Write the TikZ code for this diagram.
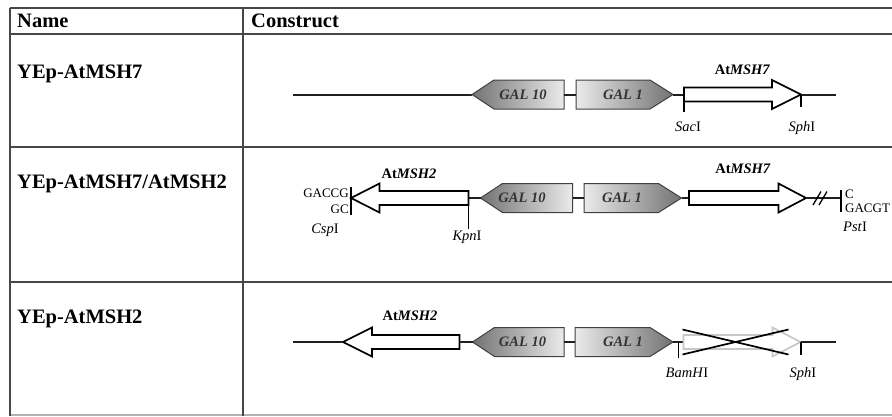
\documentclass[tikz,border=0pt]{standalone}
\usepackage{fontspec}
\setmainfont{Liberation Serif}
\newcommand\GalTen[4]{% name, tip x, right x, centre y
  \shade[left color=black!55,right color=black!8] (#2,#4) -- ({#2+22},{#4-14.5}) -- (#3,{#4-14.5}) -- (#3,{#4+14.5}) -- ({#2+22},{#4+14.5}) -- cycle;
  \draw[galbox] (#2,#4) -- ({#2+22},{#4-14.5}) -- (#3,{#4-14.5}) -- (#3,{#4+14.5}) -- ({#2+22},{#4+14.5}) -- cycle;
  \coordinate (#1-tip) at (#2,#4); \coordinate (#1-end) at (#3,#4);}
\newcommand\GalOne[4]{% name, left x, tip x, centre y
  \shade[left color=black!8,right color=black!55] (#2,{#4-14.5}) -- ({#3-23},{#4-14.5}) -- (#3,#4) -- ({#3-23},{#4+14.5}) -- (#2,{#4+14.5}) -- cycle;
  \draw[galbox] (#2,{#4-14.5}) -- ({#3-23},{#4-14.5}) -- (#3,#4) -- ({#3-23},{#4+14.5}) -- (#2,{#4+14.5}) -- cycle;
  \coordinate (#1-end) at (#2,#4); \coordinate (#1-tip) at (#3,#4);}
\newcommand\GeneR[6]{% name, style, start x, head base x, tip x, centre y
  \draw[#2] (#3,{#6-7}) -- (#4,{#6-7}) -- (#4,{#6-14.5}) -- (#5,#6) -- (#4,{#6+14.5}) -- (#4,{#6+7}) -- (#3,{#6+7}) -- cycle;
  \coordinate (#1-end) at (#3,#6); \coordinate (#1-tip) at (#5,#6);}
\newcommand\GeneL[6]{% name, style, tip x, head base x, end x, centre y
  \draw[#2] (#5,{#6-7}) -- (#4,{#6-7}) -- (#4,{#6-14.5}) -- (#3,#6) -- (#4,{#6+14.5}) -- (#4,{#6+7}) -- (#5,{#6+7}) -- cycle;
  \coordinate (#1-end) at (#5,#6); \coordinate (#1-tip) at (#3,#6);}
\begin{document}
\begin{tikzpicture}[x=1pt,y=-1pt,
  tbl/.style={line width=1.7pt,draw=black!72},
  backbone/.style={line width=2pt,draw=black!88},
  galbox/.style={line width=1pt,draw=black!75},
  gene/.style={line width=1.7pt,draw=black,fill=white,line join=miter},
  ghost/.style={line width=1.7pt,draw=black!22,fill=white,line join=miter},
  tickl/.style={line width=1.2pt,draw=black},
  hdr/.style={font=\fontsize{20.5}{22}\selectfont\bfseries,inner sep=0pt,text height=13.6pt,text depth=0pt,anchor=west},
  lbl/.style={font=\fontsize{14.5}{16}\selectfont,inner sep=0pt,text height=9.6pt,text depth=0pt},
  gal/.style={font=\fontsize{14.5}{16}\selectfont\bfseries\itshape,text=black!80,inner sep=0pt,text height=9.6pt,text depth=0pt},
  seq/.style={font=\fontsize{13}{14}\selectfont,inner sep=0pt,text height=8.6pt,text depth=0pt}]
\useasboundingbox (0,0) rectangle (892,416);
% table
\draw[tbl] (10,8) -- (892,8);
\draw[tbl] (10,34) -- (892,34);
\draw[tbl] (10,147) -- (892,147);
\draw[tbl] (10,282) -- (892,282);
\draw[line width=1.7pt,draw=black!30] (10,415) -- (892,415);
\draw[tbl] (10,8) -- (10,416);
\draw[tbl] (243,8) -- (243,416);
\node[hdr] (hname) at (17,21) {Name};
\node[hdr] (hcons) at (251,21) {Construct};
\node[hdr] (n1) at (17,72) {YEp-AtMSH7};
\node[hdr] (n2) at (17,182) {YEp-AtMSH7/AtMSH2};
\node[hdr] (n3) at (17,317) {YEp-AtMSH2};
% ---------- row 1
\coordinate (r1s) at (293,94.5);
\coordinate (r1e) at (836,94.5);
\draw[backbone] (r1s) -- (472,94.5);
\GalTen{a10}{472}{564}{94.5}
\GalOne{a1}{576}{673}{94.5}
\draw[backbone] (a10-end) -- (a1-end);
\draw[backbone] (a1-tip) -- (684,94.5);
\GeneR{a7}{gene}{684}{772}{801}{94.5}
\draw[backbone] (a7-tip) -- (r1e);
\node[gal] (ga10) at (523,94.5) {GAL 10};
\node[gal] (ga1) at (623,94.5) {GAL 1};
\draw[tickl] (684,87.5) -- (684,112);
\draw[tickl] (801,94.5) -- (801,107);
\node[lbl] (sac1) at (688,127) {\textit{Sac}I};
\node[lbl] (sph1) at (802,127) {\textit{Sph}I};
\node[lbl] (m71) at (742.5,69.5) {\textbf{At\textit{MSH7}}};
% ---------- row 2
\GeneL{b2}{gene}{351}{379.5}{468.5}{198}
\GalTen{b10}{480.5}{572.5}{198}
\GalOne{b1}{584}{681.5}{198}
\draw[backbone] (b2-end) -- (b10-tip);
\draw[backbone] (b10-end) -- (b1-end);
\draw[backbone] (b1-tip) -- (689,198);
\GeneR{b7}{gene}{689}{778.5}{806}{198}
\coordinate (pst) at (841,198);
\draw[backbone] (b7-tip) -- (pst);
\draw[line width=1.3pt] (813,205) -- (821,191.5);
\draw[line width=1.3pt] (819,205) -- (827,191.5);
\node[gal] (gb10) at (522,198) {GAL 10};
\node[gal] (gb1) at (622,198) {GAL 1};
\draw[tickl] (351,186.5) -- (351,215);
\draw[tickl] (468.5,205) -- (468.5,229);
\draw[tickl] (841,190) -- (841,212);
\node[seq,anchor=east] (s1) at (349,193.5) {GACCG};
\node[seq,anchor=east] (s2) at (349,209.5) {GC};
\node[seq,anchor=west] (s3) at (845,194) {C};
\node[seq,anchor=west] (s4) at (845,208.5) {GACGT};
\node[lbl] (csp) at (325,228.5) {\textit{Csp}I};
\node[lbl] (kpn) at (467,236) {\textit{Kpn}I};
\node[lbl] (pstl) at (855,226.5) {\textit{Pst}I};
\node[lbl] (m22) at (409,173.5) {\textbf{At\textit{MSH2}}};
\node[lbl] (m72) at (743,168.5) {\textbf{At\textit{MSH7}}};
% ---------- row 3
\coordinate (r3s) at (293,342);
\coordinate (r3e) at (836,342);
\GeneL{c2}{gene}{343}{372}{459.5}{342}
\draw[backbone] (r3s) -- (c2-tip);
\GalTen{c10}{472.5}{564}{342}
\GalOne{c1}{575}{673}{342}
\draw[backbone] (c2-end) -- (c10-tip);
\draw[backbone] (c10-end) -- (c1-end);
\draw[backbone] (c1-tip) -- (683.5,342);
\GeneR{c7}{ghost}{683.5}{772.5}{800.5}{342}
\draw[backbone] (c7-tip) -- (r3e);
\coordinate (x1) at (682.5,329.5);
\coordinate (x2) at (788.5,354.5);
\coordinate (x3) at (682.5,354.5);
\coordinate (x4) at (788.5,329.5);
\draw[line width=1.7pt] (x1) -- (x2);
\draw[line width=1.7pt] (x3) -- (x4);
\node[gal] (gc10) at (522.5,342) {GAL 10};
\node[gal] (gc1) at (623,342) {GAL 1};
\draw[tickl] (678.5,341) -- (678.5,358);
\draw[tickl] (801,342) -- (801,355);
\node[lbl] (bam) at (687,372.5) {\textit{BamH}I};
\node[lbl] (sph3) at (803,372.5) {\textit{Sph}I};
\node[lbl] (m23) at (410,316) {\textbf{At\textit{MSH2}}};
\end{tikzpicture}
\end{document}
